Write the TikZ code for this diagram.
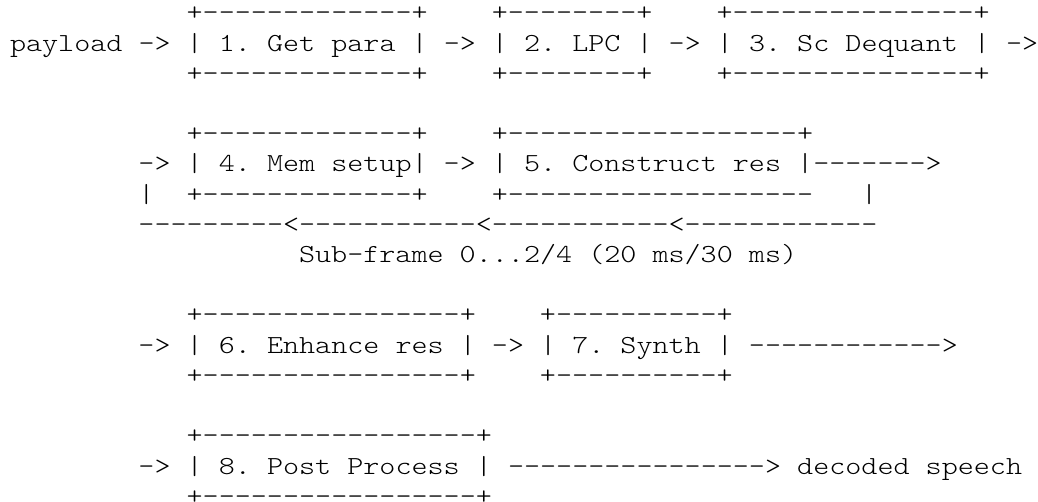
\documentclass[tikz,border=0pt]{standalone}
\usepackage{fontspec}
\setmonofont{Latin Modern Mono Light}
\tikzset{
  txt/.style={anchor=base west, inner sep=0pt, outer sep=0pt, font=\fontsize{26}{30}\selectfont\ttfamily},
}
\newcommand\seg[4]{\node[txt] (#1) at ({10+#2*16.06pt}, {-(21+#3*30.2)*1pt}) {\scalebox{1.177}[1]{#4}};}
\begin{document}
\begin{tikzpicture}
\useasboundingbox (0,0) rectangle (1038pt,-502pt);
% row 0
\seg{t1}{11}{0}{+-------------+}
\seg{t2}{30}{0}{+--------+}
\seg{t3}{44}{0}{+---------------+}
% row 1
\seg{l1}{0}{1}{payload -> | 1. Get para | -> | 2. LPC | -> | 3. Sc Dequant | ->}
% row 2
\seg{b1}{11}{2}{+-------------+}
\seg{b2}{30}{2}{+--------+}
\seg{b3}{44}{2}{+---------------+}
% row 4
\seg{t4}{11}{4}{+-------------+}
\seg{t5}{30}{4}{+------------------+}
% row 5
\seg{l2}{8}{5}{-> | 4. Mem setup| -> | 5. Construct res |------->}
% row 6
\seg{v1}{8}{6}{|}
\seg{b4}{11}{6}{+-------------+}
\seg{b5}{30}{6}{+-------------------}
\seg{v2}{53}{6}{|}
% row 7
\seg{loop}{8}{7}{---------<-----------<-----------<------------}
% row 8
\seg{sub}{18}{8}{Sub-frame 0...2/4 (20 ms/30 ms)}
% row 10
\seg{t6}{11}{10}{+----------------+}
\seg{t7}{33}{10}{+----------+}
% row 11
\seg{l3}{8}{11}{-> | 6. Enhance res | -> | 7. Synth | ------------>}
% row 12
\seg{b6}{11}{12}{+----------------+}
\seg{b7}{33}{12}{+----------+}
% row 14
\seg{t8}{11}{14}{+-----------------+}
% row 15
\seg{l4}{8}{15}{-> | 8. Post Process | ----------------> decoded speech}
% row 16
\seg{b8}{11}{16}{+-----------------+}
\end{tikzpicture}
\end{document}
